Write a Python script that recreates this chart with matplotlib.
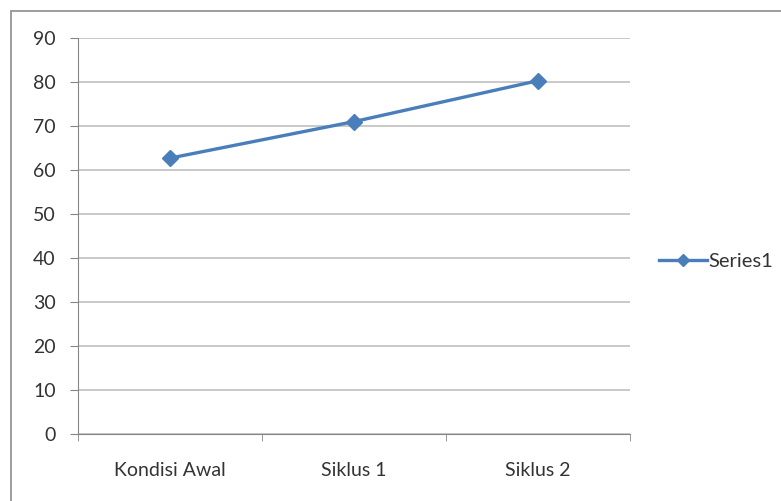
import matplotlib.pyplot as plt
from matplotlib.patches import Rectangle

categories = ["Kondisi Awal", "Siklus 1", "Siklus 2"]
values = [62.7, 71.0, 80.3]
yticks = [0, 10, 20, 30, 40, 50, 60, 70, 80, 90]

plt.rcParams["font.family"] = ["Lato", "DejaVu Sans"]

W, H = 781, 501
fig = plt.figure(figsize=(W / 100, H / 100), dpi=100)
fig.patches.append(Rectangle((11 / W, -0.1), 1.2, (H - 11) / H + 0.1, transform=fig.transFigure,
                             fill=False, edgecolor="#8c8c8c", linewidth=1.2))

ax = fig.add_axes([78 / W, (H - 434) / H, (630 - 78) / W, (434 - 38) / H])
x = list(range(len(categories)))
line, = ax.plot(x, values, color="#4a7ebb", linewidth=2.4, marker="D", markersize=8,
                label="Series1", zorder=3)

ax.set_ylim(0, 90)
ax.set_yticks(yticks)
ax.set_xlim(-0.5, len(categories) - 0.5)
ax.set_xticks(x)
ax.set_xticklabels(categories)
ax.set_xticks([i - 0.5 for i in range(len(categories) + 1)], minor=True)
ax.tick_params(axis="x", which="major", length=0, pad=20, labelsize=14, colors="#333333")
ax.tick_params(axis="x", which="minor", length=5, color="#868686")
ax.tick_params(axis="y", length=6, color="#868686", labelsize=14, labelcolor="#333333", pad=10)
ax.grid(axis="y", color="#c0c0c0", linewidth=1.2)
ax.set_axisbelow(True)
for s in ["top", "right"]:
    ax.spines[s].set_visible(False)
for s in ["left", "bottom"]:
    ax.spines[s].set_color("#868686")

leg = fig.legend(handles=[line], loc="center left", bbox_to_anchor=(659 / W, (H - 261) / H),
                 frameon=False, fontsize=14.5, handlelength=2.4, handletextpad=0.05,
                 borderaxespad=0, borderpad=0, markerscale=0.8)
for t in leg.get_texts():
    t.set_color("#333333")

fig.savefig("out.png", dpi=100)
